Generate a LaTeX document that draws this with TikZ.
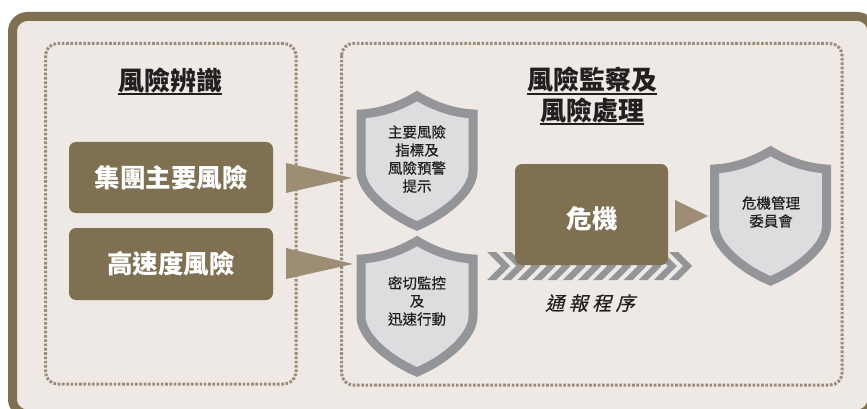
\documentclass[tikz,border=0pt]{standalone}
\usepackage{fontspec}
\newfontfamily\cjk{Noto Sans CJK TC}
\newfontfamily\cjkmed[FakeBold=0.5]{Noto Sans CJK TC}
\newfontfamily\cjkit[FakeSlant=0.25,FakeBold=0.5]{Noto Sans CJK TC}
\usetikzlibrary{calc}
\definecolor{brownF}{HTML}{807052}
\definecolor{bgF}{HTML}{EEE9E5}
\definecolor{arrowF}{HTML}{9D8D74}
\definecolor{dotF}{HTML}{9A8C76}
\definecolor{shieldD}{HTML}{939598}
\definecolor{shieldF}{HTML}{DCDDDF}
\definecolor{txtF}{HTML}{231F20}
\newcommand\shieldat[3]{%
  \draw[shieldsty] (#1,#2) .. controls (#1-22,#2+13) and (#1-40,#2+17) .. (#1-56,#2+18)
    -- (#1-56,#2+75) .. controls (#1-56,#3-35) and (#1-28,#3-12) .. (#1,#3)
    .. controls (#1+28,#3-12) and (#1+56,#3-35) .. (#1+56,#2+75)
    -- (#1+56,#2+18) .. controls (#1+40,#2+17) and (#1+22,#2+13) .. cycle;}
\begin{document}
\begin{tikzpicture}[x=1pt,y=-1pt,
  dotsty/.style={draw=dotF,line width=3pt,dash pattern=on 2.6pt off 1.7pt,rounded corners=12pt},
  shieldsty/.style={draw=shieldD,fill=shieldF,line width=9pt,line join=miter},
  titlesty/.style={font=\cjk\bfseries\fontsize{26}{30}\selectfont,text=txtF,inner sep=0pt},
  ulsty/.style={draw=txtF,line width=1.8pt},
  boxsty/.style={fill=brownF,rounded corners=7pt},
  boxtxt/.style={font=\cjk\bfseries\fontsize{25.5}{30}\selectfont,text=white,inner sep=0pt},
  shtxt/.style={font=\cjkmed\fontsize{14.5}{18}\selectfont,text=txtF,align=center,inner sep=0pt},
  tri/.style={fill=arrowF},
  chev/.style={fill=shieldD}]
\useasboundingbox (0,0) rectangle (867,409);
\clip (0,0) rectangle (867,409);
\fill[white] (0,0) rectangle (867,409);
% outer frame
\draw[line width=9pt,draw=brownF,fill=bgF,rounded corners=15pt] (12.5,16.5) rectangle (872,414);
% dotted groups
\draw[dotsty] (45.5,43.5) rectangle (296,384);
\draw[dotsty] (341.5,43.5) rectangle (842,385);
% titles
\node[titlesty] (t1) at (170,80) {風險辨識};
\draw[ulsty] ([yshift=-1pt]t1.south west) -- ([yshift=-1pt]t1.south east);
\node[titlesty] (t2a) at (592,80) {風險監察及};
\draw[ulsty] ([yshift=-1pt]t2a.south west) -- ([yshift=-1pt]t2a.south east);
\node[titlesty] (t2b) at (592,110) {風險處理};
\draw[ulsty] ([yshift=-1pt]t2b.south west) -- ([yshift=-1pt]t2b.south east);
% left boxes
\fill[boxsty] (69,142) rectangle (273,213);
\node[boxtxt] (b1) at (171,178) {集團主要風險};
\fill[boxsty] (69,228) rectangle (273,300);
\node[boxtxt] (b2) at (171,264) {高速度風險};
% triangles
\fill[tri] (286,163) -- (352,178) -- (286,193) -- cycle;
\fill[tri] (286,248) -- (353,264) -- (286,279) -- cycle;
% shields
\shieldat{417}{96}{226}
\node[shtxt] (s1) at (417,159) {主要風險\\指標及\\風險預警\\提示};
\shieldat{417}{241}{372}
\node[shtxt] (s2) at (417,301) {密切監控\\及\\迅速行動};
\shieldat{770.5}{151}{281}
\node[shtxt] (s3) at (771,212) {危機管理\\委員會};
% chevron band
\foreach \i in {0,...,12}{
  \pgfmathsetmacro\xx{487+\i*15.17}
  \fill[chev] (\xx,252) -- (\xx+9,252) -- (\xx+23,266) -- (\xx+9,280) -- (\xx,280) -- (\xx+14,266) -- cycle;
}
% crisis box
\fill[boxsty] (515,164) rectangle (668,265);
\node[boxtxt] (c) at (592,219) {危機};
\fill[tri] (675,200) -- (708,216) -- (675,232) -- cycle;
% caption
\node[font=\cjkit\fontsize{19}{21}\selectfont,text=txtF,inner sep=0pt] (cap) at (590,303) {通\hspace{4.5pt}報\hspace{4.5pt}程\hspace{4.5pt}序};
\end{tikzpicture}
\end{document}
